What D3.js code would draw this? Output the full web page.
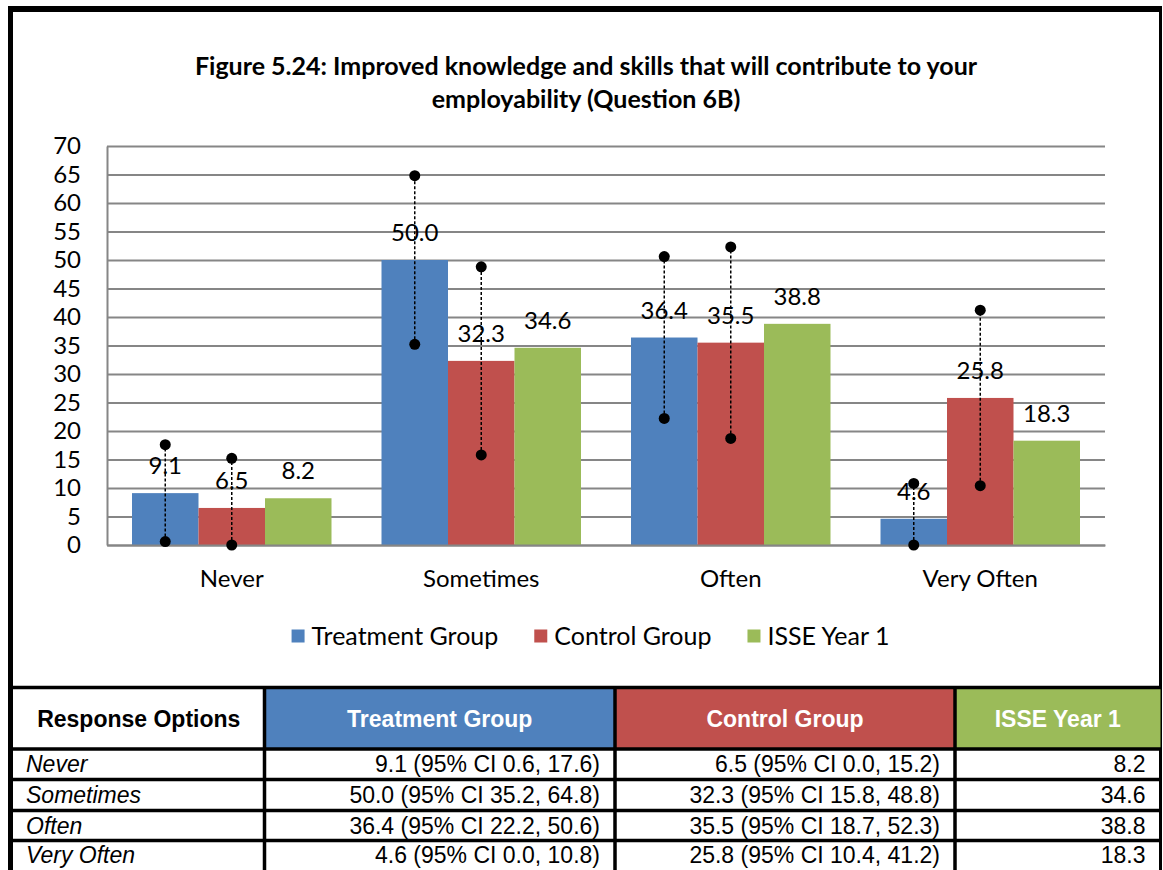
<!DOCTYPE html>
<html>
<head>
<meta charset="utf-8">
<script src="https://cdn.jsdelivr.net/npm/d3@7"></script>
<style>
  html, body { margin: 0; padding: 0; background: #ffffff; }
  svg { display: block; }
</style>
</head>
<body>
<svg id="chart" width="1163" height="870"></svg>
<script>
// Response categories and series
const categories = ["Never", "Sometimes", "Often", "Very Often"];
const seriesNames = ["Treatment Group", "Control Group", "ISSE Year 1"];
const seriesColors = ["#4F81BD", "#C0504D", "#9BBB59"];

// Percentages per series (one value per category)
const treatment = [9.1, 50.0, 36.4, 4.6];
const control = [6.5, 32.3, 35.5, 25.8];
const isse = [8.2, 34.6, 38.8, 18.3];

// 95% confidence intervals (treatment and control only)
const treatmentLow = [0.6, 35.2, 22.2, 0.0];
const treatmentHigh = [17.6, 64.8, 50.6, 10.8];
const controlLow = [0.0, 15.8, 18.7, 10.4];
const controlHigh = [15.2, 48.8, 52.3, 41.2];

// Y axis ticks
const yTicks = [0, 5, 10, 15, 20, 25, 30, 35, 40, 45, 50, 55, 60, 65, 70];

const titleLines = [
  "Figure 5.24: Improved knowledge and skills that will contribute to your",
  "employability (Question 6B)"
];
const tableHeader = "Response Options";

const svg = d3.select("#chart");
const W = 1163, H = 870;
const chartFont = "Lato, 'Open Sans', sans-serif";
const tableFont = "'Liberation Sans', Arial, sans-serif";

svg.append("rect").attr("width", W).attr("height", H).attr("fill", "#ffffff");

// Plot area
const plot = { left: 107, right: 1105, top: 146, bottom: 545 };

const series = [
  { name: seriesNames[0], color: seriesColors[0], values: treatment, low: treatmentLow, high: treatmentHigh },
  { name: seriesNames[1], color: seriesColors[1], values: control, low: controlLow, high: controlHigh },
  { name: seriesNames[2], color: seriesColors[2], values: isse, low: null, high: null }
];

const x0 = d3.scaleBand().domain(categories).range([plot.left, plot.right]).padding(0);
const x1 = d3.scaleBand().domain(seriesNames).range([0, x0.bandwidth()]).paddingInner(0).paddingOuter(0.376);
const y = d3.scaleLinear().domain([0, 70]).range([plot.bottom, plot.top]);

// Title
const title = svg.append("text")
  .attr("x", 586)
  .attr("text-anchor", "middle")
  .attr("font-family", chartFont)
  .attr("font-weight", "bold")
  .attr("font-size", 25)
  .attr("fill", "#000");
titleLines.forEach((line, i) => {
  title.append("tspan").attr("x", 586).attr("y", 75 + i * 33).text(line);
});

// Gridlines + y axis
const yAxis = d3.axisLeft(y).tickValues(yTicks).tickSizeInner(-(plot.right - plot.left)).tickSizeOuter(0).tickPadding(26);
const gy = svg.append("g").attr("transform", `translate(${plot.left},0)`).call(yAxis);
gy.select(".domain").attr("stroke", "#868686").attr("stroke-width", 2);
gy.selectAll(".tick line").attr("stroke", "#868686").attr("stroke-width", 2);
gy.selectAll(".tick text")
  .attr("font-family", chartFont).attr("font-size", 24).attr("fill", "#000");

// Bars
const groups = svg.append("g").selectAll("g")
  .data(categories)
  .join("g")
  .attr("transform", c => `translate(${x0(c)},0)`);

groups.selectAll("rect")
  .data((c, i) => series.map(s => ({ s, v: s.values[i] })))
  .join("rect")
  .attr("x", d => x1(d.s.name))
  .attr("width", x1.bandwidth())
  .attr("y", d => y(d.v))
  .attr("height", d => y(0) - y(d.v))
  .attr("fill", d => d.s.color);

// X axis
const xAxis = d3.axisBottom(x0).tickSize(0).tickPadding(0);
const gx = svg.append("g").attr("transform", `translate(0,${plot.bottom})`).call(xAxis);
gx.select(".domain").attr("stroke", "#868686").attr("stroke-width", 2);
gx.selectAll(".tick text")
  .attr("font-family", chartFont).attr("font-size", 24).attr("fill", "#000")
  .attr("dy", 0).attr("y", 42);

// Error bars (dashed with round end markers)
const errData = [];
categories.forEach((c, i) => {
  series.forEach(s => {
    if (s.low) errData.push({ c, s, lo: s.low[i], hi: s.high[i] });
  });
});
const errG = svg.append("g");
errData.forEach(d => {
  const cx = x0(d.c) + x1(d.s.name) + x1.bandwidth() / 2;
  errG.append("line")
    .attr("x1", cx).attr("x2", cx)
    .attr("y1", y(d.lo)).attr("y2", y(d.hi))
    .attr("stroke", "#000").attr("stroke-width", 1.5)
    .attr("stroke-dasharray", "3,2");
  [d.lo, d.hi].forEach(v => {
    errG.append("circle").attr("cx", cx).attr("cy", y(v)).attr("r", 5.5).attr("fill", "#000");
  });
});

// Value labels
groups.selectAll("text.val")
  .data((c, i) => series.map(s => ({ s, v: s.values[i] })))
  .join("text")
  .attr("class", "val")
  .attr("x", d => x1(d.s.name) + x1.bandwidth() / 2)
  .attr("y", d => y(d.v) - 19)
  .attr("text-anchor", "middle")
  .attr("font-family", chartFont).attr("font-size", 24).attr("fill", "#000")
  .text(d => d.v.toFixed(1));

// Legend
const legend = svg.append("g");
const legendGap = 36;
let lx = 0;
series.forEach(s => {
  const g = legend.append("g").attr("transform", `translate(${lx},0)`);
  g.append("rect").attr("x", 0).attr("y", -6.5).attr("width", 13).attr("height", 13).attr("fill", s.color);
  const t = g.append("text").attr("x", 20).attr("y", 8.5)
    .attr("font-family", chartFont).attr("font-size", 25).attr("fill", "#000")
    .text(s.name);
  lx += 20 + t.node().getComputedTextLength() + legendGap;
});
const legendWidth = lx - legendGap;
legend.attr("transform", `translate(${590.5 - legendWidth / 2},636)`);

// Frame
const frameColor = "#000";
svg.append("rect").attr("x", 8).attr("y", 6).attr("width", 1154).attr("height", 6).attr("fill", frameColor);
svg.append("rect").attr("x", 8).attr("y", 6).attr("width", 5).attr("height", 864).attr("fill", frameColor);
svg.append("rect").attr("x", 1159).attr("y", 6).attr("width", 3).attr("height", 864).attr("fill", frameColor);

// Table
const colEdges = [13, 264.5, 615, 955, 1160.5];
const headerTop = 689, headerBottom = 749;
const rowTops = [749, 779.5, 810.5, 840.5, 870];

const table = svg.append("g");
// Header fills
seriesColors.forEach((col, i) => {
  table.append("rect")
    .attr("x", colEdges[i + 1])
    .attr("y", headerTop)
    .attr("width", colEdges[i + 2] - colEdges[i + 1])
    .attr("height", headerBottom - headerTop)
    .attr("fill", col);
});

// Header text
table.append("text")
  .attr("x", (colEdges[0] + colEdges[1]) / 2).attr("y", headerTop + (headerBottom - headerTop) / 2 + 8)
  .attr("text-anchor", "middle")
  .attr("font-family", tableFont).attr("font-weight", "bold").attr("font-size", 23)
  .attr("fill", "#000").text(tableHeader);
seriesNames.forEach((n, i) => {
  table.append("text")
    .attr("x", (colEdges[i + 1] + colEdges[i + 2]) / 2).attr("y", headerTop + (headerBottom - headerTop) / 2 + 8)
    .attr("text-anchor", "middle")
    .attr("font-family", tableFont).attr("font-weight", "bold").attr("font-size", 23)
    .attr("fill", "#fff").text(n);
});

// Body rows
categories.forEach((c, i) => {
  const mid = (rowTops[i] + rowTops[i + 1]) / 2;
  table.append("text")
    .attr("x", 26).attr("y", mid + 8)
    .attr("font-family", tableFont).attr("font-style", "italic").attr("font-size", 23)
    .attr("fill", "#000").text(c);
  const cells = [
    `${treatment[i].toFixed(1)} (95% CI ${treatmentLow[i].toFixed(1)}, ${treatmentHigh[i].toFixed(1)})`,
    `${control[i].toFixed(1)} (95% CI ${controlLow[i].toFixed(1)}, ${controlHigh[i].toFixed(1)})`,
    isse[i].toFixed(1)
  ];
  cells.forEach((txt, j) => {
    table.append("text")
      .attr("x", colEdges[j + 2] - 15).attr("y", mid + 8)
      .attr("text-anchor", "end")
      .attr("font-family", tableFont).attr("font-size", 23)
      .attr("fill", "#000").text(txt);
  });
});

// Table grid lines
const lineW = 3.5;
[headerTop - 1.5].concat(rowTops.slice(0, 4)).forEach(yy => {
  table.append("rect").attr("x", 8).attr("y", yy - lineW / 2).attr("width", 1154).attr("height", lineW).attr("fill", "#000");
});
colEdges.slice(1, 4).forEach(xx => {
  table.append("rect").attr("x", xx - lineW / 2).attr("y", headerTop - 3).attr("width", lineW).attr("height", H - headerTop + 3).attr("fill", "#000");
});
</script>
</body>
</html>
